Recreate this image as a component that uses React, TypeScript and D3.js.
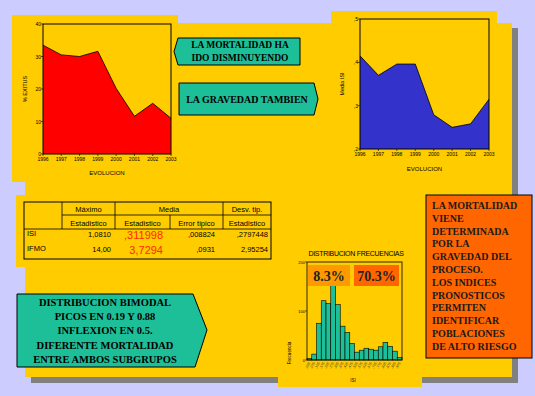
import { scaleLinear, scaleBand, area, line, format } from 'd3';

// data
const years = [1996, 1997, 1998, 1999, 2000, 2001, 2002, 2003];
const exitusPct = [33.5, 30.5, 30, 31.6, 20.2, 11.6, 15.6, 11];
const mediaIsi = [0.415, 0.37, 0.396, 0.396, 0.279, 0.25, 0.258, 0.315];

const isiBins = [',025', ',075', ',125', ',175', ',225', ',275', ',325', ',375', ',425', ',475',
  ',525', ',575', ',625', ',675', ',725', ',775', ',825', ',875', ',925', ',975'];
const isiFreq = [3, 12, 75, 121, 115, 152, 113, 69, 56, 34, 16, 20, 24, 22, 20, 27, 36, 28, 18, 5];

const rowNames = ['ISI', 'IFMO'];
const maximo = ['1,0810', '14,00'];
const mediaEst = [',311998', '3,7294'];
const mediaErr = [',008824', ',0931'];
const desvTip = [',2797448', '2,95254'];

const calloutTop = ['LA MORTALIDAD HA', 'IDO DISMINUYENDO'];
const calloutMid = ['LA GRAVEDAD TAMBIEN'];
const calloutBottom = ['DISTRIBUCION BIMODAL', 'PICOS EN 0.19 Y 0.88', 'INFLEXION EN 0.5.',
  'DIFERENTE MORTALIDAD', 'ENTRE AMBOS SUBGRUPOS'];
const conclusion = ['LA MORTALIDAD', 'VIENE', 'DETERMINADA', 'POR LA', 'GRAVEDAD DEL', 'PROCESO.',
  'LOS INDICES', 'PRONOSTICOS', 'PERMITEN', 'IDENTIFICAR', 'POBLACIONES', 'DE ALTO RIESGO'];
const pctLabels = ['8.3%', '70.3%'];

const SANS = '"Liberation Sans", Arial, sans-serif';
const SERIF = '"Liberation Serif", "Times New Roman", serif';
const YELLOW = '#ffcc00';
const TEAL = '#1dbf98';

function AreaChart({ values, box, domain, ticks, fmt, fill, ylabel, xTitleY }) {
  const [x0, y0, x1, y1] = box;
  const x = scaleLinear().domain([years[0], years[years.length - 1]]).range([x0, x1]);
  const y = scaleLinear().domain(domain).range([y1, y0]);
  const pts = years.map((yr, i) => [yr, values[i]]);
  const a = area().x((d) => x(d[0])).y0(y(domain[0])).y1((d) => y(d[1]));
  const l = line().x((d) => x(d[0])).y((d) => y(d[1]));
  return (
    <g>
      <path d={a(pts)} fill={fill} />
      <path d={l(pts)} fill="none" stroke="#000" strokeWidth={0.8} />
      <rect x={x0} y={y0} width={x1 - x0} height={y1 - y0} fill="none" stroke="#000" strokeWidth={1} />
      {ticks.map((t) => (
        <g key={t}>
          <line x1={x0 - 2} x2={x0} y1={y(t)} y2={y(t)} stroke="#000" strokeWidth={0.6} />
          <text x={x0 - 2} y={y(t) + 2} textAnchor="end" fontSize={5} fontFamily={SANS}>{fmt(t)}</text>
        </g>
      ))}
      {years.map((yr) => (
        <g key={yr}>
          <line x1={x(yr)} x2={x(yr)} y1={y1} y2={y1 + 2} stroke="#000" strokeWidth={0.6} />
          <text x={x(yr)} y={y1 + 7} textAnchor="middle" fontSize={5} fontFamily={SANS}>{yr}</text>
        </g>
      ))}
      <text x={(x0 + x1) / 2} y={xTitleY} textAnchor="middle" fontSize={6} fontFamily={SANS}>EVOLUCION</text>
      <text transform={`translate(${x0 - 16},${(y0 + y1) / 2}) rotate(-90)`} textAnchor="middle"
        fontSize={5.5} fontFamily={SANS}>{ylabel}</text>
    </g>
  );
}

function StatsTable() {
  const left = 24, right = 271, top = 202;
  const cols = [24, 62, 115, 170, 223, 271];
  const r1 = 215, r2 = 229, bottom = 259;
  const rowY = [237, 252];
  const cols4 = [maximo, mediaEst, mediaErr, desvTip];
  const padR = [4, 7, 8, 3];
  return (
    <g fontFamily={SANS}>
      <rect x={left} y={top} width={right - left} height={bottom - top} fill="none" stroke="#000" strokeWidth={1} />
      <line x1={cols[1]} x2={right} y1={r1} y2={r1} stroke="#000" strokeWidth={0.8} />
      <line x1={left} x2={right} y1={r2} y2={r2} stroke="#000" strokeWidth={0.8} />
      {[1, 2, 4].map((c) => (
        <line key={c} x1={cols[c]} x2={cols[c]} y1={top} y2={r2} stroke="#000" strokeWidth={0.8} />
      ))}
      <line x1={cols[3]} x2={cols[3]} y1={r1} y2={r2} stroke="#000" strokeWidth={0.8} />
      <text x={(cols[1] + cols[2]) / 2} y={212} textAnchor="middle" fontSize={7.5}>Máximo</text>
      <text x={(cols[2] + cols[4]) / 2} y={212} textAnchor="middle" fontSize={7.5}>Media</text>
      <text x={(cols[4] + cols[5]) / 2} y={212} textAnchor="middle" fontSize={7.5}>Desv. tip.</text>
      {['Estadistico', 'Estadistico', 'Error tipico', 'Estadistico'].map((t, i) => (
        <text key={i} x={(cols[i + 1] + cols[i + 2]) / 2} y={226} textAnchor="middle" fontSize={7.5}>{t}</text>
      ))}
      {rowNames.map((name, r) => (
        <g key={name}>
          <text x={27} y={rowY[r] - 1} fontSize={7.5}>{name}</text>
          {cols4.map((col, c) => (
            <text key={c} x={cols[c + 2] - padR[c]} y={rowY[r] + (c === 1 ? 1.5 : 0)} textAnchor="end"
              fontSize={c === 1 ? 11 : 7.5} fill={c === 1 ? '#ff2a00' : '#000'}>{col[r]}</text>
          ))}
        </g>
      ))}
    </g>
  );
}

function Histogram() {
  const x0 = 307, x1 = 402, y0 = 262, y1 = 360;
  const x = scaleBand().domain(isiBins).range([x0, x1]).padding(0);
  const y = scaleLinear().domain([0, 200]).range([y1, y0]);
  return (
    <g fontFamily={SANS}>
      <text x={356} y={256} textAnchor="middle" fontSize={7} letterSpacing={-0.3}>DISTRIBUCION FRECUENCIAS</text>
      {isiBins.map((b, i) => (
        <rect key={b} x={x(b)} y={y(isiFreq[i])} width={x.bandwidth()} height={y(0) - y(isiFreq[i])}
          fill={TEAL} stroke="#000" strokeWidth={0.6} />
      ))}
      <rect x={x0} y={y0} width={x1 - x0} height={y1 - y0} fill="none" stroke="#000" strokeWidth={0.8} />
      {[0, 100, 200].map((t) => (
        <g key={t}>
          <line x1={x0 - 2} x2={x0} y1={y(t)} y2={y(t)} stroke="#000" strokeWidth={0.5} />
          <text x={x0 - 2} y={y(t) + 1.5} textAnchor="end" fontSize={4}>{t}</text>
        </g>
      ))}
      {isiBins.map((b) => (
        <text key={b} transform={`translate(${x(b) + x.bandwidth() / 2 + 1},${y1 + 3}) rotate(-60)`}
          textAnchor="end" fontSize={3.5} fill="#333">{b}</text>
      ))}
      <text x={353} y={382} textAnchor="middle" fontSize={4.5}>ISI</text>
      <text transform={`translate(291,353) rotate(-90)`} textAnchor="middle" fontSize={4.5}>Frecuencia</text>
      <rect x={308} y={265} width={42} height={21} fill="#ff9900" />
      <rect x={354} y={265} width={45} height={21} fill="#ff6600" />
      <text x={329} y={281} textAnchor="middle" fontSize={14} fontWeight="bold" fontFamily={SERIF} fill="#222">{pctLabels[0]}</text>
      <text x={376.5} y={281} textAnchor="middle" fontSize={14} fontWeight="bold" fontFamily={SERIF} fill="#222">{pctLabels[1]}</text>
    </g>
  );
}

export default function App() {
  const fmtInt = format('d');
  const fmtComma = (v) => format('.1f')(v).replace('0.', ',');
  return (
    <svg width={535} height={396} style={{ position: 'fixed', left: 0, top: 0 }}>
      <rect width={535} height={396} fill="#ccccff" />
      {/* shadows */}
      <rect x={512} y={28} width={6} height={355} fill="#808080" />
      <rect x={31} y={377} width={487} height={6} fill="#808080" />
      {/* yellow panels */}
      <rect x={25} y={23} width={487} height={354} fill={YELLOW} />
      <rect x={12} y={15} width={166} height={167} fill={YELLOW} />
      <rect x={331} y={11} width={166} height={60} fill={YELLOW} />
      <rect x={16} y={195} width={12} height={72} fill={YELLOW} />
      <rect x={278} y={230} width={144} height={157} fill={YELLOW} />

      <AreaChart values={exitusPct} box={[43, 24, 171, 154]} domain={[0, 40]} ticks={[0, 10, 20, 30, 40]}
        fmt={fmtInt} fill="#ff0000" ylabel="% EXITUS" xTitleY={175} />
      <AreaChart values={mediaIsi} box={[360, 19, 489, 149]} domain={[0.2, 0.5]} ticks={[0.2, 0.3, 0.4, 0.5]}
        fmt={fmtComma} fill="#3333cc" ylabel="Media ISI" xTitleY={171} />

      {/* callouts */}
      <path d="M178,38 L300,38 L300,65 L178,65 L174,51.5 Z" fill={TEAL} stroke="#000" strokeWidth={1} />
      {calloutTop.map((t, i) => (
        <text key={t} x={240} y={48 + i * 13} textAnchor="middle" fontSize={9.5} fontWeight="bold" fontFamily={SERIF}>{t}</text>
      ))}
      <path d="M179,83 L314,83 L318,99 L314,115 L179,115 Z" fill={TEAL} stroke="#000" strokeWidth={1} />
      {calloutMid.map((t) => (
        <text key={t} x={247} y={103} textAnchor="middle" fontSize={10} fontWeight="bold" fontFamily={SERIF}>{t}</text>
      ))}

      <StatsTable />

      <path d="M17,294 L193,294 L207,330 L195,367 L17,367 Z" fill={TEAL} stroke="#000" strokeWidth={1} />
      {calloutBottom.map((t, i) => (
        <text key={t} x={105} y={306 + i * 14.2} textAnchor="middle" fontSize={10.5} fontWeight="bold" fontFamily={SERIF}>{t}</text>
      ))}

      <rect x={426} y={195} width={106} height={163} fill="#ff6600" stroke="#000" strokeWidth={1} />
      {conclusion.map((t, i) => (
        <text key={t} x={432} y={209 + i * 12.8} fontSize={10} fontWeight="bold" fontFamily={SERIF} fill="#1a1a1a">{t}</text>
      ))}

      <Histogram />
    </svg>
  );
}
